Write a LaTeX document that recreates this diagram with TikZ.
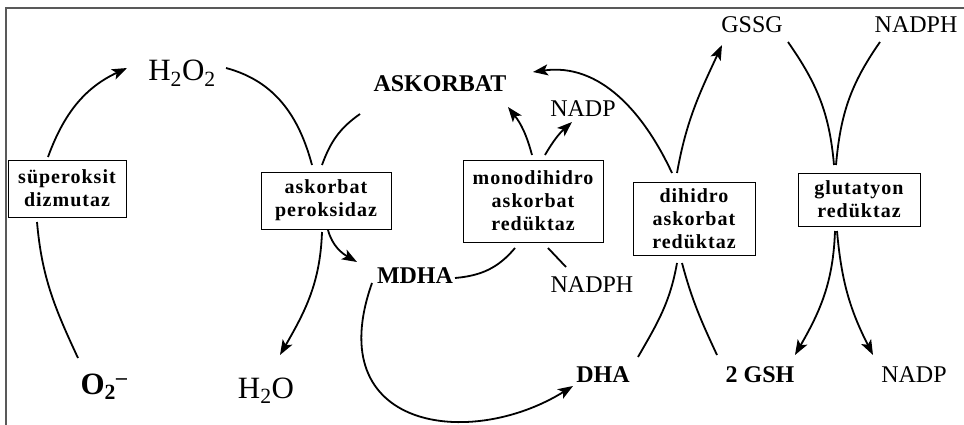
\documentclass[tikz,border=0pt]{standalone}
\usepackage{fontspec}
\setmainfont{Liberation Serif}
\newfontfamily\boxfont[LetterSpace=5]{Liberation Serif}
\usepackage{tikz}
\usetikzlibrary{arrows.meta}

\begin{document}
\begin{tikzpicture}[x=1pt, y=-1pt,
    enzyme/.style={draw, line width=0.9pt, align=center, inner sep=0pt, font=\boxfont\bfseries\fontsize{20}{23}\selectfont},
    chem/.style={anchor=base, inner sep=0pt, font=\fontsize{24}{28}\selectfont},
    chembig/.style={chem, font=\fontsize{31}{34}\selectfont},
    flow/.style={line width=1.8pt},
    react/.style={flow, -{Stealth[length=15pt,width=11pt,inset=3.5pt]}}]
    \useasboundingbox (0,0) rectangle (964,425);
    \draw[line width=2pt, black!65] (6,425) -- (6,8) -- (964,8);

    % enzymes
    \node[enzyme, minimum width=118pt, minimum height=57pt] (sod) at (67,188.5) {süperoksit\\dizmutaz};
    \node[enzyme, minimum width=130pt, minimum height=57pt] (apx) at (326,200.5) {askorbat\\peroksidaz};
    \node[enzyme, minimum width=140pt, minimum height=82pt] (mdhar) at (533,201) {monodihidro\\askorbat\\redüktaz};
    \node[enzyme, minimum width=122pt, minimum height=73pt] (dhar) at (694,218.5) {dihidro\\askorbat\\redüktaz};
    \node[enzyme, minimum width=122pt, minimum height=53pt] (gr) at (859,199.5) {glutatyon\\redüktaz};

    % substances
    \node[chembig] (h2o2) at (182,81) {H\textsubscript{2}O\textsubscript{2}};
    \node[chembig] (o2) at (104,394) {\textbf{O\textsubscript{2}\textsuperscript{--}}};
    \node[chembig] (h2o) at (266,398) {H\textsubscript{2}O};
    \node[chem] (asc) at (440,92) {\textbf{ASKORBAT}};
    \node[chem] (nadp1) at (583,117) {NADP};
    \node[chem] (mdha) at (415,283) {\textbf{MDHA}};
    \node[chem] (nadph1) at (592,292) {NADPH};
    \node[chem] (dha) at (603,382) {\textbf{DHA}};
    \node[chem] (gssg) at (752,33) {GSSG};
    \node[chem] (nadph2) at (916,33) {NADPH};
    \node[chem] (gsh) at (760,382) {\textbf{2 GSH}};
    \node[chem] (nadp2) at (914,382) {NADP};

    % superoxide and peroxide
    \draw[flow] ([shift={(-26,-36)}]o2.base) to[out=115,in=-85] ([shift={(-30,33.5)}]sod.center);
    \draw[react] ([shift={(-19,-31.5)}]sod.center) to[out=70,in=205] ([shift={(-55,-13)}]h2o2.base);
    \draw[flow] ([shift={(44,-13)}]h2o2.base) to[out=-15,in=105] ([shift={(-14,-35.5)}]apx.center);
    \draw[react] ([shift={(-4,31.5)}]apx.center) to[out=-92,in=60] ([shift={(14,-43)}]h2o.base);
    \draw[flow] ([shift={(-80,22)}]asc.base) to[out=215,in=70] ([shift={(-4,-35.5)}]apx.center);
    \draw[react] ([shift={(2,29.5)}]apx.center) to[out=-75,in=150] ([shift={(-58,-21)}]mdha.base);

    % MDHA
    \draw[flow] ([shift={(40,-5)}]mdha.base) to[out=5,in=230] ([shift={(-18,47)}]mdhar.center);
    \draw[react] ([shift={(-1,-46)}]mdhar.center) to[out=105,in=-52] ([shift={(68,15)}]asc.base);
    \draw[react] ([shift={(12,-46)}]mdhar.center) to[out=60,in=222] ([shift={(-11,5)}]nadp1.base);
    \draw[flow] ([shift={(-26,-25)}]nadph1.base) -- ([shift={(15,47)}]mdhar.center);
    \draw[react] ([shift={(-43,0)}]mdha.base) .. controls +(-52,147) and +(-103,64) .. ([shift={(-30,4)}]dha.base);

    % DHA
    \draw[flow] ([shift={(35,-25)}]dha.base) to[out=60,in=-100] ([shift={(-17,44.5)}]dhar.center);
    \draw[flow] ([shift={(-43,-27)}]gsh.base) to[out=115,in=-75] ([shift={(-12,44.5)}]dhar.center);
    \draw[react] ([shift={(-22,-45.5)}]dhar.center) to[out=115,in=8] ([shift={(93,-20)}]asc.base);
    \draw[react] ([shift={(-17,-45.5)}]dhar.center) to[out=80,in=-115] ([shift={(-30,12)}]gssg.base);

    % glutathione
    \draw[flow] ([shift={(36,9)}]gssg.base) to[out=-55,in=95] ([shift={(-25,-34.5)}]gr.center);
    \draw[flow] ([shift={(-36,9)}]nadph2.base) to[out=-125,in=85] ([shift={(-23,-34.5)}]gr.center);
    \draw[react] ([shift={(-24,31.5)}]gr.center) to[out=-92,in=60] ([shift={(35,-27)}]gsh.base);
    \draw[react] ([shift={(-22,31.5)}]gr.center) to[out=-85,in=117] ([shift={(-41,-27)}]nadp2.base);
\end{tikzpicture}
\end{document}
